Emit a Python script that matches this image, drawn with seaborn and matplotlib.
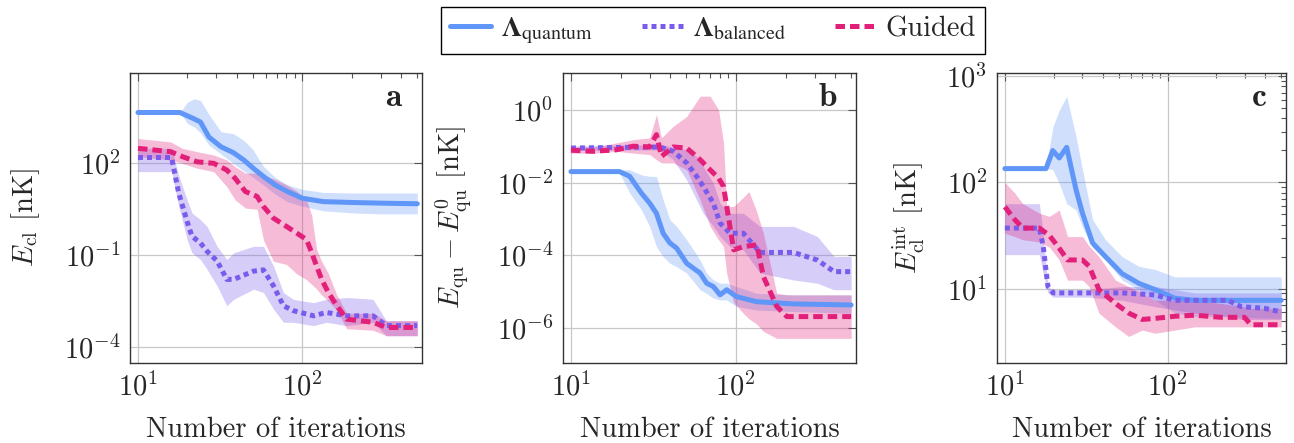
import numpy as np
import pandas as pd
import matplotlib.pyplot as plt
import seaborn as sns
from matplotlib.lines import Line2D
from matplotlib.font_manager import FontProperties
from matplotlib.ticker import FixedLocator, NullLocator, LogLocator

# values as log10 of the energy
# ---- panel a : E_cl
a_q_x = [10, 18, 20, 22, 24, 27, 32, 38, 44, 50, 58, 68, 81, 100, 134, 205, 300, 500]
a_q_m = [3.66, 3.66, 3.55, 3.45, 3.35, 2.86, 2.54, 2.35, 2.11, 1.85, 1.57, 1.30, 1.08, 0.86, 0.75, 0.72, 0.70, 0.68]
a_q_hi = [3.66, 3.66, 4.0, 4.11, 4.05, 3.6, 3.03, 2.97, 2.75, 2.45, 1.9, 1.55, 1.3, 1.15, 1.05, 1.03, 1.03, 1.03]
a_q_lo = [3.66, 3.66, 3.3, 3.19, 3.0, 2.6, 2.3, 2.0, 1.75, 1.55, 1.3, 1.0, 0.75, 0.6, 0.45, 0.38, 0.35, 0.35]

a_b_x = [10, 16, 17.7, 19.9, 21.3, 24, 26.3, 30.3, 34.7, 38.2, 50.5, 58, 66.7, 76.7, 88, 117, 140, 186, 269, 324, 500]
a_b_m = [2.19, 2.19, 1.03, 0.1, -0.38, -0.60, -0.87, -1.19, -1.79, -1.79, -1.52, -1.48, -2.0, -2.65, -2.81, -2.98, -2.87, -2.98, -2.98, -3.30, -3.30]
a_b_hi = [2.49, 2.49, 1.6, 0.81, 0.38, 0.16, -0.06, -0.71, -1.14, -0.92, -0.71, -0.71, -1.35, -2.22, -2.44, -2.55, -2.44, -2.38, -2.44, -3.14, -3.14]
a_b_lo = [1.73, 1.73, 0.6, -0.49, -0.92, -1.14, -1.46, -2.0, -2.65, -2.44, -2.11, -2.22, -2.76, -3.19, -3.19, -3.30, -3.19, -3.30, -3.19, -3.63, -3.63]

a_g_x = [10, 15.8, 18.6, 22.9, 28.9, 34.7, 39, 45, 53, 58, 66.7, 80, 92, 106, 114, 122, 131, 144, 162, 186, 269, 324, 500]
a_g_m = [2.49, 2.38, 2.22, 2.05, 2.0, 1.78, 1.51, 1.08, 0.92, 0.59, 0.21, -0.06, -0.27, -0.49, -0.92, -1.35, -1.79, -2.22, -2.65, -3.09, -3.19, -3.36, -3.36]
a_g_hi = [2.81, 2.70, 2.49, 2.38, 2.27, 2.11, 1.89, 1.68, 1.68, 1.6, 1.5, 1.3, 1.1, 0.81, 0.3, -0.81, -1.2, -1.6, -2.3, -2.9, -2.9, -3.14, -3.14]
a_g_lo = [2.22, 2.11, 2.0, 1.84, 1.73, 1.24, 0.81, 0.54, 0.5, -0.5, -1.2, -1.3, -1.6, -1.8, -1.95, -2.1, -2.3, -2.5, -2.8, -3.4, -3.45, -3.63, -3.63]

# ---- panel b : E_qu - E_qu^0
b_q_x = [10, 19.7, 22.7, 26.7, 30, 33, 36.2, 39.8, 43.7, 50.3, 60.7, 66.5, 73, 80.2, 88, 101, 134, 224, 500]
b_q_m = [-1.69, -1.69, -1.82, -2.28, -2.56, -2.84, -3.39, -3.66, -3.80, -4.22, -4.49, -4.77, -4.86, -5.09, -4.95, -5.14, -5.28, -5.34, -5.37]
b_q_hi = [-1.69, -1.64, -1.64, -1.78, -1.82, -1.82, -2.47, -3.02, -3.2, -3.57, -4.13, -4.49, -4.68, -4.77, -4.77, -4.86, -5.05, -5.09, -5.09]
b_q_lo = [-1.69, -1.73, -2.28, -2.74, -3.2, -3.76, -4.03, -4.22, -4.31, -4.49, -4.95, -5.05, -5.18, -5.23, -5.23, -5.41, -5.51, -5.55, -5.60]

b_b_x = [10, 34.6, 41.7, 50.3, 57.8, 63.4, 73, 80.2, 92.2, 111, 140, 224, 312, 394, 500]
b_b_m = [-1.04, -1.01, -1.13, -1.45, -1.82, -2.10, -2.56, -3.11, -3.39, -3.39, -3.92, -3.92, -4.13, -4.45, -4.45]
b_b_hi = [-0.98, -0.95, -1.01, -1.09, -1.27, -1.55, -2.01, -2.56, -2.84, -2.84, -3.2, -3.2, -3.48, -4.03, -4.03]
b_b_lo = [-1.10, -1.09, -1.36, -1.92, -2.47, -2.84, -3.2, -3.48, -3.76, -3.85, -4.49, -4.68, -4.77, -4.95, -4.95]

b_g_x = [10, 13.6, 18.8, 23.8, 30, 33, 35.4, 41.7, 50.3, 60.7, 69.8, 78.5, 84.2, 88, 97, 111, 120, 134, 147, 177, 204, 500]
b_g_m = [-1.10, -1.13, -1.09, -0.99, -1.01, -0.67, -1.27, -1.01, -1.04, -1.36, -1.64, -1.87, -2.10, -2.65, -3.85, -3.76, -3.74, -3.71, -4.59, -5.41, -5.69, -5.69]
b_g_hi = [-1.01, -1.01, -0.90, -0.81, -0.76, -0.12, -0.76, -0.44, -0.17, 0.39, 0.39, 0.02, -0.90, -2.65, -2.65, -2.4, -2.24, -2.8, -3.4, -5.05, -5.09, -5.09]
b_g_lo = [-1.18, -1.18, -1.13, -1.18, -1.22, -1.36, -1.45, -1.45, -1.64, -2.47, -3.2, -3.57, -3.76, -4.5, -5.3, -5.6, -5.75, -5.9, -6.1, -6.29, -6.29, -6.29]

# ---- panel c : E_cl^int
c_q_x = [10, 17.9, 19.7, 21.6, 24, 27.4, 30, 34.6, 41.6, 52.7, 66.6, 84.1, 111, 147, 500]
c_q_m = [2.13, 2.13, 2.30, 2.23, 2.33, 1.93, 1.71, 1.43, 1.30, 1.14, 1.05, 0.99, 0.91, 0.89, 0.89]
c_q_hi = [2.13, 2.13, 2.52, 2.68, 2.81, 2.43, 2.12, 1.65, 1.46, 1.30, 1.21, 1.18, 1.11, 1.11, 1.11]
c_q_lo = [2.13, 2.13, 2.12, 1.99, 1.80, 1.74, 1.58, 1.39, 1.27, 1.08, 0.99, 0.89, 0.77, 0.74, 0.72]

c_b_x = [10, 16.3, 17.2, 18.4, 19.8, 32.9, 52.7, 84.1, 111, 147, 235, 284, 394, 500]
c_b_m = [1.57, 1.57, 1.40, 1.02, 0.96, 0.96, 0.96, 0.94, 0.89, 0.89, 0.89, 0.83, 0.815, 0.78]
c_b_hi = [1.80, 1.80, 1.52, 1.02, 0.99, 0.99, 1.02, 1.02, 0.99, 0.96, 0.96, 0.96, 0.96, 0.96]
c_b_lo = [1.32, 1.32, 1.14, 0.96, 0.92, 0.92, 0.89, 0.83, 0.80, 0.77, 0.74, 0.71, 0.71, 0.71]

c_g_x = [10, 11.5, 12.9, 16.3, 18.8, 21.6, 24.3, 30, 33, 37.9, 47.9, 57.7, 69.8, 84.1, 111, 147, 213, 297, 326, 500]
c_g_m = [1.77, 1.65, 1.57, 1.57, 1.50, 1.38, 1.27, 1.27, 1.21, 0.99, 0.86, 0.77, 0.71, 0.72, 0.74, 0.75, 0.73, 0.73, 0.66, 0.66]
c_g_hi = [2.0, 1.90, 1.80, 1.71, 1.68, 1.74, 1.49, 1.49, 1.40, 1.30, 1.08, 1.02, 0.96, 0.89, 0.89, 0.89, 0.86, 0.83, 0.815, 0.815]
c_g_lo = [1.52, 1.49, 1.46, 1.44, 1.39, 1.27, 1.08, 1.08, 1.02, 0.77, 0.64, 0.55, 0.61, 0.58, 0.61, 0.64, 0.64, 0.64, 0.64, 0.64]

methods = ['quantum', 'balanced', 'guided']
labels = [r'$\boldsymbol{\Lambda}_{\mathrm{quantum}}$', r'$\boldsymbol{\Lambda}_{\mathrm{balanced}}$', 'Guided']
colors = {'quantum': '#6096F8', 'balanced': '#7A5CEC', 'guided': '#E2207A'}
dashes = {'quantum': '', 'balanced': (1.0, 0.8), 'guided': (1.9, 1.0)}

panels = {
    'a': [(a_q_x, a_q_m, a_q_lo, a_q_hi), (a_b_x, a_b_m, a_b_lo, a_b_hi), (a_g_x, a_g_m, a_g_lo, a_g_hi)],
    'b': [(b_q_x, b_q_m, b_q_lo, b_q_hi), (b_b_x, b_b_m, b_b_lo, b_b_hi), (b_g_x, b_g_m, b_g_lo, b_g_hi)],
    'c': [(c_q_x, c_q_m, c_q_lo, c_q_hi), (c_b_x, c_b_m, c_b_lo, c_b_hi), (c_g_x, c_g_m, c_g_lo, c_g_hi)],
}
ylabels = {'a': r'$E_{\rm cl}$ [nK]', 'b': r'$E_{\rm qu} - E_{\rm qu}^0$ [nK]', 'c': r'$E_{\rm cl}^{\rm int}$ [nK]'}
ylims = {'a': (10**-4.52, 10**4.95), 'b': (10**-6.97, 10**1.03), 'c': (10**0.30, 10**3.03)}
yticks = {'a': [1e-4, 1e-1, 1e2], 'b': [1e-6, 1e-4, 1e-2, 1e0], 'c': None}
rects = {'a': [0.1005, 0.1806, 0.2257, 0.6546],
         'b': [0.4351, 0.1806, 0.2264, 0.6546],
         'c': [0.7705, 0.1806, 0.2233, 0.6546]}
ylab_x = {'a': -0.30, 'b': -0.307, 'c': -0.242}

sns.set_style("white")
plt.rcParams['font.family'] = 'serif'
plt.rcParams['font.serif'] = ['cmr10']
plt.rcParams['mathtext.fontset'] = 'cm'
plt.rcParams['axes.formatter.use_mathtext'] = True
plt.rcParams['font.size'] = 20.5

fig = plt.figure(figsize=(12.94, 4.43), dpi=100)

for key, series in panels.items():
    ax = fig.add_axes(rects[key])
    rows = []
    for m, (x, mean, lo, hi) in zip(methods, series):
        ax.fill_between(x, 10**np.array(lo), 10**np.array(hi), color=colors[m], alpha=0.3, linewidth=0)
        rows.append(pd.DataFrame({'method': m, 'iters': x, 'E': 10**np.array(mean)}))
    df = pd.concat(rows, ignore_index=True)
    sns.lineplot(data=df, x='iters', y='E', hue='method', style='method', hue_order=methods,
                 style_order=methods, palette=colors, dashes=dashes, linewidth=3.6,
                 errorbar=None, sort=False, legend=False, ax=ax)
    ax.set_xscale('log')
    ax.set_yscale('log')
    ax.set_xlim(8.95, 535)
    ax.set_ylim(*ylims[key])
    if yticks[key] is not None:
        ax.yaxis.set_major_locator(FixedLocator(yticks[key]))
        ax.yaxis.set_minor_locator(NullLocator())
    else:
        ax.yaxis.set_minor_locator(LogLocator(base=10, subs=np.arange(2, 10)))
    ax.xaxis.set_minor_locator(LogLocator(base=10, subs=np.arange(2, 10)))
    ax.grid(True, which='major', color='#c8c8c8', linewidth=0.9)
    ax.tick_params(which='both', direction='in', top=True, right=True, color='#555555', width=0.8)
    ax.tick_params(which='major', length=6, pad=7)
    ax.tick_params(which='minor', length=3.5)
    for s in ax.spines.values():
        s.set_color('#333333')
        s.set_linewidth(1.0)
    ax.set_xlabel('Number of iterations')
    ax.set_ylabel(ylabels[key])
    ax.xaxis.set_label_coords(0.5, -0.185)
    ax.yaxis.set_label_coords(ylab_x[key], 0.5)
    ax.text(0.935, 0.965, r'$\mathbf{' + key + '}$', transform=ax.transAxes,
            ha='right', va='top', fontsize=24)

handles = [Line2D([], [], color=colors['quantum'], linewidth=3.6),
           Line2D([], [], color=colors['balanced'], linewidth=3.6, dashes=dashes['balanced']),
           Line2D([], [], color=colors['guided'], linewidth=3.6, dashes=dashes['guided'])]
leg_font = FontProperties(family='serif', size=20.5, math_fontfamily='stix')
fig.legend(handles, labels, loc='upper center', bbox_to_anchor=(713 / 1294, 1 - 7 / 443), ncol=3,
           prop=leg_font, frameon=True, fancybox=False, edgecolor='black', framealpha=1,
           handlelength=1.45, handletextpad=0.35, columnspacing=1.7, borderpad=0.3,
           borderaxespad=0)

fig.savefig('out.png', dpi=100)
